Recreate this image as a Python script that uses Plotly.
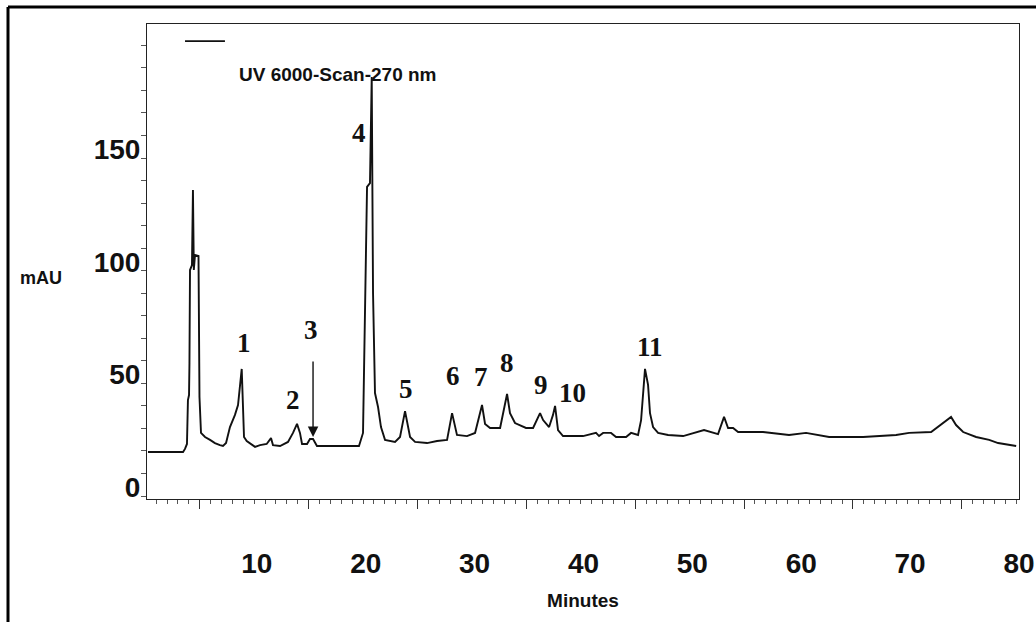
import plotly.graph_objects as go

# Chromatogram trace (time in minutes, absorbance in mAU)
time_min = [0.0, 3.22, 3.40, 3.58, 3.67, 3.77, 3.81, 3.86, 4.04, 4.13, 4.21, 4.32, 4.64, 4.73, 4.87,
            5.24, 5.70, 6.15, 6.61, 6.89, 7.17, 7.53, 7.99, 8.27, 8.61, 8.82, 9.07, 9.83, 10.29,
            10.90, 11.30, 11.48, 12.13, 12.86, 13.32, 13.69, 13.96, 14.15, 14.61, 14.88, 15.16,
            15.52, 19.38, 19.75, 20.12, 20.39, 20.55, 20.62, 20.67, 20.85, 21.13, 21.40, 21.77,
            22.69, 23.15, 23.61, 24.07, 24.53, 25.63, 26.55, 27.47, 27.93, 28.38, 29.30, 30.04,
            30.68, 30.96, 31.42, 32.34, 32.98, 33.25, 33.71, 34.72, 35.37, 35.73, 36.01, 36.29,
            36.84, 37.20, 37.39, 37.66, 38.12, 39.96, 41.15, 41.43, 41.80, 42.53, 42.99, 43.91,
            44.37, 45.01, 45.29, 45.65, 45.93, 46.11, 46.39, 46.85, 47.77, 49.15, 50.06, 51.07,
            52.36, 52.91, 53.28, 53.74, 54.20, 56.49, 58.88, 60.44, 62.56, 65.68, 68.71, 69.91,
            71.93, 73.03, 73.76, 74.22, 74.87, 76.06, 77.26, 78.08, 79.74]
mau = [15.5, 15.5, 16.9, 19.1, 38.6, 40.8, 55.0, 96.3, 98.5, 131.8, 96.3, 103.0, 102.5, 39.9, 24.0,
       22.2, 20.9, 19.5, 18.6, 18.2, 19.5, 26.6, 32.0, 36.4, 52.4, 22.2, 20.4, 17.8, 18.6,
       19.1, 21.7, 18.6, 18.2, 20.0, 24.0, 28.0, 24.0, 19.1, 19.1, 21.3, 21.3,
       18.2, 18.2, 24.0, 133.2, 134.9, 182.0, 134.9, 86.1, 41.7, 35.5, 26.6, 20.9,
       20.0, 22.2, 33.7, 22.2, 20.0, 19.5, 20.4, 20.9, 32.8, 23.1, 22.6, 24.0,
       36.4, 28.0, 26.2, 26.2, 41.3, 32.8, 28.4, 26.2, 26.2, 29.7, 32.8, 29.7,
       26.6, 32.0, 36.0, 25.3, 22.6, 22.6, 24.0, 22.6, 24.0, 24.0, 22.2, 22.2,
       24.0, 23.1, 29.7, 52.4, 45.3, 32.8, 26.6, 24.0, 23.1, 22.6, 24.0, 25.3,
       23.5, 31.1, 26.2, 26.2, 24.4, 24.4, 23.1, 24.0, 22.2, 22.2, 23.1, 24.0,
       24.4, 28.4, 31.1, 27.5, 24.4, 22.2, 20.9, 19.5, 18.2]

# Peak labels
peak_names = ["1", "2", "3", "4", "5", "6", "7", "8", "9", "10", "11"]
peak_x = [8.82, 13.32, 14.98, 19.38, 23.7, 28.0, 30.6, 33.0, 36.1, 38.95, 46.1]
peak_y = [63.7, 38.4, 69.5, 157.1, 43.5, 49.3, 48.8, 55.0, 45.3, 41.7, 62.0]

# Arrow for peak 3 (tail and tip)
arrow_x = 15.16
arrow_tail_y = 56.4
arrow_tip_y = 22.2

# Axis tick labels and tick-mark positions
x_label_vals = [10, 20, 30, 40, 50, 60, 70, 80]
x_major_marks = [4.75, 14.75, 24.75, 34.75, 44.75, 54.75, 64.75, 74.75]
y_label_vals = [0, 50, 100, 150]

X_RANGE = [-0.09, 80.0]
Y_RANGE = [-5.33, 205.5]

tick_font = dict(family="Liberation Sans, Arial, sans-serif", size=28, color="#111", weight="bold")
peak_font = dict(family="Liberation Serif, Times New Roman, serif", size=27, color="#111", weight="bold")

fig = go.Figure()
fig.add_trace(go.Scatter(x=time_min, y=mau, mode="lines",
                         line=dict(color="#111", width=1.9), showlegend=False,
                         hoverinfo="x+y"))
# invisible trace carrying the tick-mark axes
fig.add_trace(go.Scatter(x=time_min, y=mau, mode="lines", xaxis="x2", yaxis="y2",
                         line=dict(color="rgba(0,0,0,0)", width=0), showlegend=False,
                         hoverinfo="skip"))

annotations = []
for name, px, py in zip(peak_names, peak_x, peak_y):
    annotations.append(dict(x=px, y=py, xref="x", yref="y", text=name, showarrow=False,
                            font=peak_font, xanchor="center", yanchor="middle"))
annotations.append(dict(x=arrow_x, y=arrow_tip_y, ax=arrow_x, ay=arrow_tail_y,
                        xref="x", yref="y", axref="x", ayref="y", text="",
                        showarrow=True, arrowhead=2, arrowsize=1.5, arrowwidth=1.4,
                        arrowcolor="#111", standoff=0, startstandoff=0))
annotations.append(dict(x=0.1032, y=0.8947, xref="paper", yref="paper",
                        text="UV 6000-Scan-270 nm", showarrow=False, xanchor="left",
                        yanchor="middle",
                        font=dict(family="Liberation Sans, Arial, sans-serif", size=19,
                                  color="#111", weight="bold")))
annotations.append(dict(x=-0.121, y=0.465, xref="paper", yref="paper", text="mAU",
                        showarrow=False, xanchor="center", yanchor="middle",
                        font=dict(family="Liberation Sans, Arial, sans-serif", size=18,
                                  color="#111", weight="bold")))

shapes = [
    # legend sample line
    dict(type="line", xref="paper", yref="paper", x0=0.0436, x1=0.0894, y0=0.964, y1=0.964,
         line=dict(color="#111", width=1.6)),
    # outer frame (top and left)
    dict(type="line", xref="paper", yref="paper", x0=-0.1594, x1=1.03, y0=1.0358, y1=1.0358,
         line=dict(color="#000", width=3)),
    dict(type="line", xref="paper", yref="paper", x0=-0.1594, x1=-0.1594, y0=1.0358, y1=-0.27,
         line=dict(color="#000", width=3)),
]

fig.update_layout(
    width=1036, height=622,
    margin=dict(l=147, r=17, t=24, b=123, autoexpand=False),
    paper_bgcolor="white", plot_bgcolor="white",
    showlegend=False,
    annotations=annotations,
    shapes=shapes,
    xaxis=dict(range=X_RANGE, tickmode="array", tickvals=x_label_vals,
               ticktext=[str(v) for v in x_label_vals], ticks="", ticklen=0, showgrid=False,
               zeroline=False, showline=True, mirror=True, linecolor="#222", linewidth=1,
               tickfont=tick_font, ticklabelstandoff=39, automargin=False,
               title=dict(text="Minutes", standoff=16,
                          font=dict(family="Liberation Sans, Arial, sans-serif", size=19,
                                    color="#111", weight="bold"))),
    yaxis=dict(range=Y_RANGE, tickmode="array", tickvals=y_label_vals,
               ticktext=[str(v) for v in y_label_vals], ticks="", ticklen=0, showgrid=False,
               zeroline=False, showline=True, mirror=True, linecolor="#222", linewidth=1,
               tickfont=tick_font, ticklabelstandoff=0, automargin=False),
    xaxis2=dict(range=X_RANGE, overlaying="x", anchor="y", side="bottom",
                tickmode="array", tickvals=x_major_marks, ticks="outside", ticklen=9,
                tickwidth=1, tickcolor="#333", showticklabels=False, showgrid=False,
                zeroline=False, showline=False, automargin=False,
                minor=dict(tick0=0.75, dtick=1, ticks="outside", ticklen=4,
                           tickwidth=1, tickcolor="#555", showgrid=False)),
    yaxis2=dict(range=Y_RANGE, overlaying="y", anchor="x", side="left",
                tick0=-4, dtick=10, ticks="outside", ticklen=5, tickwidth=1,
                tickcolor="#555", showticklabels=False, showgrid=False,
                zeroline=False, showline=False, automargin=False),
)

fig.write_html("out.html", config={"displayModeBar": False},
               post_script="document.body.style.margin='0';document.body.style.padding='0';")
